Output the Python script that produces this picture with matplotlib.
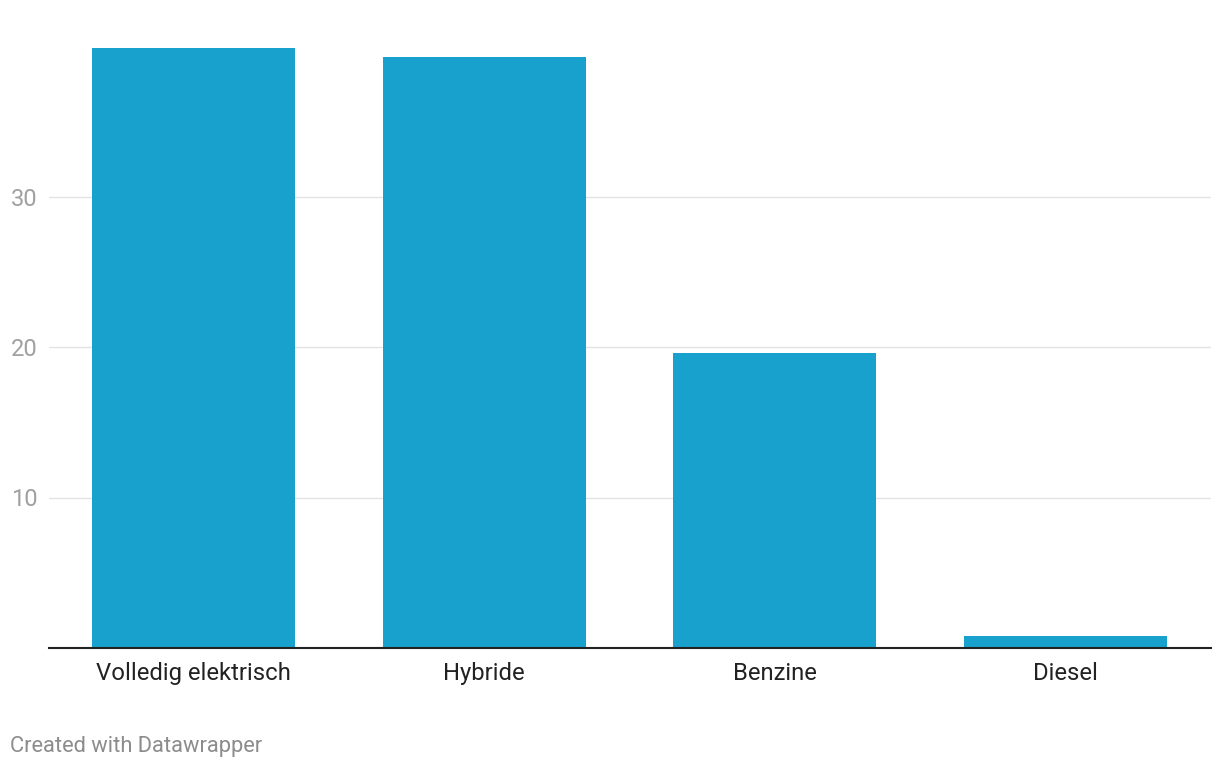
import matplotlib
matplotlib.use("Agg")
import matplotlib.pyplot as plt

categories = ["Volledig elektrisch", "Hybride", "Benzine", "Diesel"]
values = [39.9, 39.3, 19.6, 0.8]
yticks = [10, 20, 30]

plt.rcParams['font.family'] = ['Roboto', 'DejaVu Sans']

fig = plt.figure(figsize=(12.2, 7.68), dpi=100)
ax = fig.add_axes([48.5/1220, 1-648/768, (1210-48)/1220, (648-46)/768])

x = list(range(len(categories)))
ax.bar(x, values, width=0.7, color="#18a1cd", zorder=2)
ax.set_xlim(-0.5, 3.5)
ax.set_ylim(0, 40)

ax.set_yticks(yticks)
ax.set_yticklabels([str(t) for t in yticks])
ax.set_xticks(x)
ax.set_xticklabels(categories)
ax.grid(axis='y', color="#e3e3e3", linewidth=1, zorder=0)
ax.tick_params(axis='y', length=0, pad=8, labelsize=17, labelcolor="#a0a0a0")
ax.tick_params(axis='x', length=0, pad=10, labelsize=17.2, labelcolor="#222222")
for s in ['top', 'right', 'left']:
    ax.spines[s].set_visible(False)
ax.spines['bottom'].set_color("#222222")
ax.spines['bottom'].set_linewidth(1.5)
ax.spines['bottom'].set_zorder(3)

fig.text(10/1220, 1-746.5/768, "Created with Datawrapper", fontsize=15.75, color="#8c8c8c",
         ha='left', va='center')

fig.savefig("out.png", dpi=100, facecolor="white")
